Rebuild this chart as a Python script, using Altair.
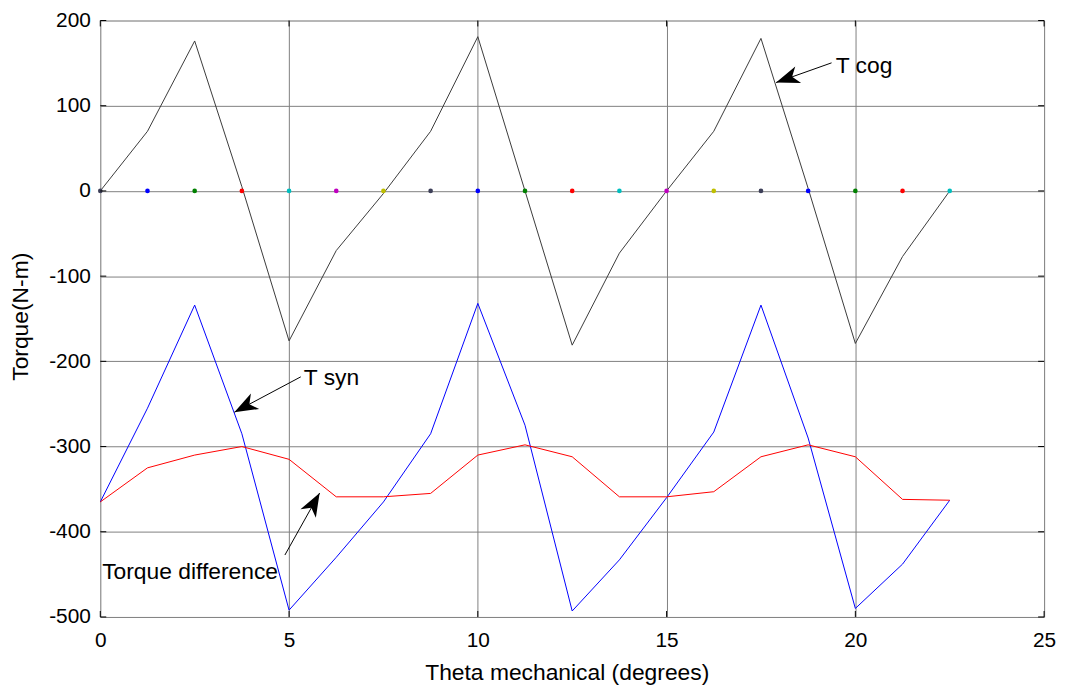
import math
import altair as alt
import pandas as pd

# ---- data ----
theta = [0, 1.25, 2.5, 3.75, 5, 6.25, 7.5, 8.75, 10, 11.25, 12.5, 13.75,
         15, 16.25, 17.5, 18.75, 20, 21.25, 22.5]
t_cog = [0, 70, 176, 5, -176, -70, -3, 70, 181, 0, -181, -73,
         0, 70, 179, 3, -179, -77, 0]
t_syn = [-365, -255, -134, -285, -492, -430, -365, -285, -132, -275, -493, -433,
         -360, -283, -134, -290, -490, -438, -363]
t_diff = [-365, -325, -310, -300, -315, -359, -359, -355, -310, -298, -312, -359,
          -359, -353, -312, -298, -312, -362, -363]
series_names = ["T cog", "T syn", "Torque difference"]
series_colors = ["#3a3a3a", "#0000ff", "#ff0000"]

dot_cycle = ["#3d3f58", "#0000ff", "#008000", "#ff0000", "#00bfbf", "#bf00bf", "#bfbf00"]

x_ticks = [0, 5, 10, 15, 20, 25]
y_ticks = [200, 100, 0, -100, -200, -300, -400, -500]

ann_text = ["T cog", "T syn", "Torque difference"]
ann_text_x = [19.48, 5.39, 0.05]
ann_text_y = [138.7, -227.4, -455.0]
arrow_tail_x = [19.37, 5.31, 4.89]
arrow_tail_y = [150.3, -218.2, -427.3]
arrow_tip_x = [17.90, 3.55, 5.81]
arrow_tip_y = [127.2, -259.7, -354.5]

# ---- layout ----
W, H = 951, 601
PAD_L, PAD_T, PAD_R, PAD_B = 93, 10, 14, 72
XMIN, XMAX = 0, 25
YMIN, YMAX = -500, 200
FONT = "Liberation Sans"
GRID = "#808080"

xs = alt.Scale(domain=[XMIN, XMAX], nice=False, zero=False)
ys = alt.Scale(domain=[YMIN, YMAX], nice=False, zero=False)

lines_df = pd.DataFrame({
    "theta": theta * 3,
    "torque": t_cog + t_syn + t_diff,
    "series": [series_names[0]] * len(theta) + [series_names[1]] * len(theta)
              + [series_names[2]] * len(theta),
})

dots_df = pd.DataFrame({
    "theta": theta,
    "zero": [0] * len(theta),
    "col": [dot_cycle[i % len(dot_cycle)] for i in range(len(theta))],
})

px_x = W / (XMAX - XMIN)
px_y = H / (YMAX - YMIN)
angles = []
for tx, ty, hx, hy in zip(arrow_tail_x, arrow_tail_y, arrow_tip_x, arrow_tip_y):
    dx = (hx - tx) * px_x
    dy = -(hy - ty) * px_y
    angles.append(math.degrees(math.atan2(dx, -dy)) % 360)

arrows_df = pd.DataFrame({
    "x": arrow_tail_x, "y": arrow_tail_y,
    "x2": arrow_tip_x, "y2": arrow_tip_y, "ang": angles,
})
text_df = pd.DataFrame({"x": ann_text_x, "y": ann_text_y, "t": ann_text})

x_axis = alt.Axis(values=x_ticks, grid=True, gridColor=GRID, gridWidth=1,
                  ticks=False, domain=False, labelFontSize=21, labelFont=FONT,
                  labelColor="black", labelPadding=13, labelFlush=False,
                  labelOverlap=False, labelExpr="datum.value + ''",
                  title="Theta mechanical (degrees)",
                  titleFont=FONT, titleFontSize=23, titleFontWeight="normal",
                  titleColor="black", titleX=470, titleY=63,
                  titleBaseline="alphabetic", titleAlign="center")
y_axis = alt.Axis(values=y_ticks, grid=True, gridColor=GRID, gridWidth=1,
                  ticks=False, domain=False, labelFontSize=21, labelFont=FONT,
                  labelColor="black", labelPadding=10, labelFlush=False,
                  labelOverlap=False, labelExpr="datum.value + ''",
                  title="Torque(N-m)",
                  titleFont=FONT, titleFontSize=23, titleFontWeight="normal",
                  titleColor="black", titleX=-73, titleY=298, titleAngle=270,
                  titleBaseline="alphabetic", titleAlign="center")

lines = alt.Chart(lines_df).mark_line(strokeWidth=1).encode(
    x=alt.X("theta:Q", scale=xs, axis=x_axis),
    y=alt.Y("torque:Q", scale=ys, axis=y_axis),
    color=alt.Color("series:N", scale=alt.Scale(domain=series_names, range=series_colors),
                    legend=None),
    order=alt.Order("theta:Q"),
)

dots = alt.Chart(dots_df).mark_circle(size=22, opacity=1).encode(
    x=alt.X("theta:Q", scale=xs),
    y=alt.Y("zero:Q", scale=ys),
    color=alt.Color("col:N", scale=None),
)

tick_x_df = pd.DataFrame({"v": x_ticks})
tick_y_df = pd.DataFrame({"v": y_ticks})
tk = dict(color="black", strokeWidth=1)
ticks_bottom = alt.Chart(tick_x_df).mark_rule(**tk).encode(
    x=alt.X("v:Q", scale=xs), y=alt.value(H), y2=alt.value(H - 6))
ticks_top = alt.Chart(tick_x_df).mark_rule(**tk).encode(
    x=alt.X("v:Q", scale=xs), y=alt.value(0), y2=alt.value(6))
ticks_left = alt.Chart(tick_y_df).mark_rule(**tk).encode(
    y=alt.Y("v:Q", scale=ys), x=alt.value(0), x2=alt.value(6))
ticks_right = alt.Chart(tick_y_df).mark_rule(**tk).encode(
    y=alt.Y("v:Q", scale=ys), x=alt.value(W), x2=alt.value(W - 6))

arrow_lines = alt.Chart(arrows_df).mark_rule(color="black", strokeWidth=1).encode(
    x=alt.X("x:Q", scale=xs), y=alt.Y("y:Q", scale=ys),
    x2="x2:Q", y2="y2:Q",
)
head_path = "M0,0L0.75,2L0,1.45L-0.75,2Z"
arrow_heads = alt.Chart(arrows_df).mark_point(
    shape=head_path, filled=True, color="black", opacity=1, size=560, strokeWidth=0
).encode(
    x=alt.X("x2:Q", scale=xs), y=alt.Y("y2:Q", scale=ys),
    angle=alt.Angle("ang:Q", scale=None),
)

texts = alt.Chart(text_df).mark_text(
    align="left", baseline="alphabetic", font=FONT, fontSize=23, color="black"
).encode(
    x=alt.X("x:Q", scale=xs), y=alt.Y("y:Q", scale=ys), text="t:N",
)

chart = alt.layer(
    lines, dots, ticks_bottom, ticks_top, ticks_left, ticks_right,
    arrow_lines, arrow_heads, texts,
).properties(
    width=W, height=H,
    padding={"left": PAD_L, "top": PAD_T, "right": PAD_R, "bottom": PAD_B},
    autosize=alt.AutoSizeParams(type="none"),
).configure_view(
    stroke="black", strokeWidth=1.5,
).configure(background="white")

chart.save("out.html", embed_options={"renderer": "svg", "actions": False})
